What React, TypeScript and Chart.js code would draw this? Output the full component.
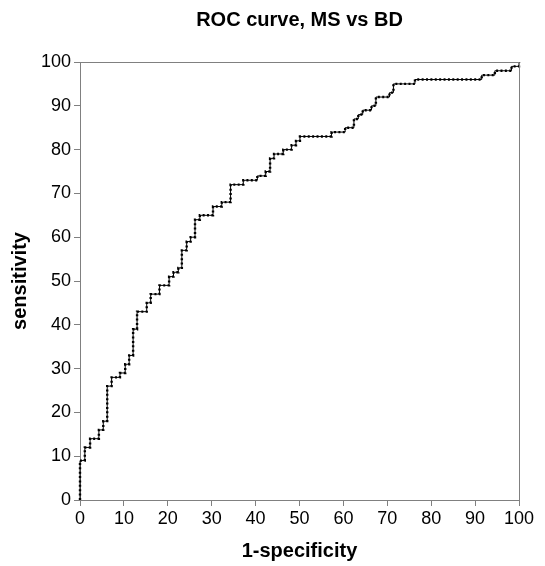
import React, { useEffect, useRef } from "react";
import { Chart, registerables } from "chart.js";

Chart.register(...registerables);

// Sensitivity level of each horizontal run of the ROC staircase
const tprLevels = [9, 12, 14, 16, 18, 26, 28, 29, 31, 33, 39, 43, 45, 47, 49, 51, 52, 53, 57, 59, 60, 64, 65, 67, 68, 72, 73, 74, 75, 78, 79, 80, 81, 82, 83, 84, 85, 87, 88, 89, 90, 92, 93, 95, 96, 97, 98, 99, 100];
// 1-specificity at the end of each horizontal run
const fprEnds = [1.1, 2.3, 4.3, 5.3, 6.2, 7.2, 9.1, 10.3, 11.2, 12.1, 13.0, 15.2, 16.1, 18.1, 20.3, 21.3, 22.4, 23.2, 24.3, 25.2, 26.2, 27.3, 30.3, 32.3, 34.3, 37.2, 40.4, 42.3, 43.3, 44.2, 46.3, 48.2, 49.2, 50.1, 57.3, 60.4, 62.4, 63.4, 64.4, 66.4, 67.4, 70.5, 71.4, 76.3, 91.5, 94.5, 98.3, 100, 100];

const xTicks = [0, 10, 20, 30, 40, 50, 60, 70, 80, 90, 100];
const yTicks = [0, 10, 20, 30, 40, 50, 60, 70, 80, 90, 100];

const TITLE = "ROC curve, MS vs BD";
const X_TITLE = "1-specificity";
const Y_TITLE = "sensitivity";

const FONT = "'Liberation Sans', Arial, Helvetica, sans-serif";
const AXIS_GRAY = "#808080";

function buildSteps() {
  const pts: { x: number; y: number }[] = [{ x: 0, y: 0 }];
  let prevX = 0;
  for (let i = 0; i < tprLevels.length; i++) {
    pts.push({ x: prevX, y: tprLevels[i] });
    pts.push({ x: fprEnds[i], y: tprLevels[i] });
    prevX = fprEnds[i];
  }
  return pts;
}

const framePlugin = {
  id: "frame",
  afterDatasetsDraw(chart: any) {
    const { ctx, chartArea } = chart;
    ctx.save();
    ctx.strokeStyle = AXIS_GRAY;
    ctx.lineWidth = 1;
    ctx.beginPath();
    ctx.moveTo(chartArea.left, chartArea.top + 0.5);
    ctx.lineTo(chartArea.right + 0.5, chartArea.top + 0.5);
    ctx.lineTo(chartArea.right + 0.5, chartArea.bottom);
    ctx.stroke();
    ctx.restore();
  },
};

export default function App() {
  const ref = useRef<HTMLCanvasElement | null>(null);

  useEffect(() => {
    document.body.style.margin = "0";
    const canvas = ref.current;
    if (!canvas) return;
    const steps = buildSteps();
    const chart = new Chart(canvas, {
      type: "line",
      data: {
        datasets: [
          {
            data: steps,
            borderColor: "#000",
            borderWidth: 1,
            pointRadius: 0,
            tension: 0,
            fill: false,
            clip: 4,
          } as any,
          {
            data: steps,
            borderColor: "#000",
            borderWidth: 2.4,
            borderDash: [2, 2.38],
            borderCapStyle: "butt",
            pointRadius: 0,
            tension: 0,
            fill: false,
            clip: 4,
          } as any,
        ],
      },
      options: {
        responsive: false,
        animation: false,
        devicePixelRatio: 1,
        layout: { padding: { left: 0, right: 26, top: 0, bottom: 0 } },
        plugins: {
          legend: { display: false },
          tooltip: { enabled: false },
          title: {
            display: true,
            text: TITLE,
            fullSize: false,
            color: "#000",
            font: { family: FONT, size: 20, weight: "bold" },
            padding: { top: 8, bottom: 30 },
          },
        },
        scales: {
          x: {
            type: "linear",
            min: 0,
            max: 100,
            afterFit: (s: any) => {
              s.height = 66;
            },
            afterBuildTicks: (s: any) => {
              s.ticks = xTicks.map((v) => ({ value: v }));
            },
            ticks: {
              color: "#000",
              font: { family: FONT, size: 18 },
              padding: 2,
              maxRotation: 0,
              autoSkip: false,
            },
            grid: {
              display: true,
              drawOnChartArea: false,
              drawTicks: true,
              tickLength: 6,
              color: AXIS_GRAY,
            },
            border: { display: true, color: AXIS_GRAY, width: 1 },
            title: {
              display: true,
              text: X_TITLE,
              color: "#000",
              font: { family: FONT, size: 20, weight: "bold" },
              padding: { top: 0, bottom: 3 },
            },
          },
          y: {
            type: "linear",
            min: 0,
            max: 100,
            afterFit: (s: any) => {
              s.width = 80;
            },
            afterBuildTicks: (s: any) => {
              s.ticks = yTicks.map((v) => ({ value: v }));
            },
            ticks: {
              color: "#000",
              font: { family: FONT, size: 18 },
              padding: 3,
              autoSkip: false,
            },
            grid: {
              display: true,
              drawOnChartArea: false,
              drawTicks: true,
              tickLength: 6,
              color: AXIS_GRAY,
            },
            border: { display: true, color: AXIS_GRAY, width: 1 },
            title: {
              display: true,
              text: Y_TITLE,
              color: "#000",
              font: { family: FONT, size: 20, weight: "bold" },
              padding: { top: 8, bottom: 0 },
            },
          },
        },
      } as any,
      plugins: [framePlugin],
    });
    return () => {
      chart.destroy();
    };
  }, []);

  return (
    <div style={{ width: 545, height: 566, background: "#fff" }}>
      <canvas ref={ref} width={545} height={566} style={{ display: "block" }} />
    </div>
  );
}
